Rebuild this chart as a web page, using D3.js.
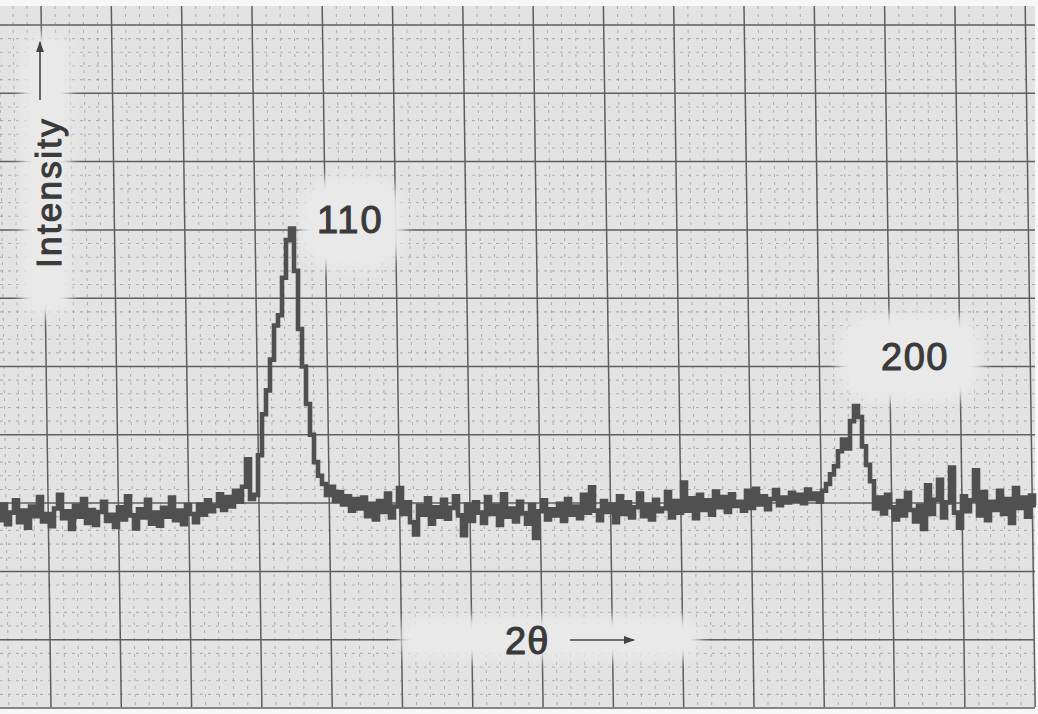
<!DOCTYPE html>
<html><head><meta charset="utf-8">
<script src="https://cdn.jsdelivr.net/npm/d3@7"></script>
<style>html,body{margin:0;padding:0;background:#fff;} svg{display:block;}</style>
</head><body>
<svg id="chart" width="1038" height="714"></svg>
<script>
// 2θ sampling of the recorder trace (arbitrary degrees, regular step)
const theta0 = 34.2;
const thetaStep = 0.14;

// Intensity readings (arbitrary units), segment by segment
const baselineLeft = [
  27.5, 29.8, 26.9, 28.6, 30.4, 27.2, 28.9, 26.4, 29.5, 28.1,
  30.9, 27.3, 28.4, 26.6, 29.2, 31.2, 27.8, 28.8, 26.2, 29.6,
  28.0, 30.6, 27.1, 29.0, 26.8, 28.7, 30.2, 27.4, 28.3, 26.5,
  29.4, 27.6, 31.0, 28.2, 26.3, 29.1, 27.9, 30.5, 27.0, 28.6,
  26.7, 29.3, 28.0, 30.8, 27.5, 28.9, 26.9, 29.7, 28.4, 27.2,
  29.8, 28.3, 30.4, 28.8, 29.6, 31.3, 29.0, 30.9, 29.5, 31.8,
  30.2, 32.4, 36.4, 30.6, 31.2
];
const peak110 = [
  37.0, 43.0, 46.5, 51.0, 56.0,
  57.5, 63.0, 68.5, 70.2, 64.0, 55.5, 50.0, 44.5, 40.0, 36.0,
  34.0, 32.8, 31.2, 32.4, 30.3
];
const baselineMid = [
  31.6, 29.8, 31.0, 28.9, 30.6,
  29.2, 30.8, 28.1, 29.9, 27.6, 30.3, 28.7, 31.4, 27.9, 29.5,
  32.2, 28.4, 30.1, 27.2, 25.4, 29.6, 28.3, 30.7, 27.0, 29.4,
  28.0, 30.5, 27.7, 29.3, 31.0, 28.2, 25.3, 29.8, 27.4, 30.1,
  28.6, 27.1, 30.9, 28.4, 29.6, 26.8, 31.3, 28.0, 29.2, 27.3,
  30.2, 28.5, 27.0, 29.7, 24.9, 28.8, 30.4, 27.6, 29.1, 28.2,
  29.9, 27.4, 30.6, 28.3, 29.5, 27.8, 31.2, 28.6, 32.3, 28.9,
  27.5, 30.3, 28.7, 29.8, 27.2, 31.0, 28.4, 30.1, 27.9, 29.4,
  31.4, 28.1, 29.7, 27.6, 30.5, 28.8, 29.2, 31.6, 27.9, 30.3,
  28.6, 33.0, 28.9, 30.7, 27.8, 31.2, 29.0, 30.4, 28.3, 31.7,
  29.4, 30.9, 28.7, 31.3, 29.6, 30.2, 28.9, 31.8, 29.3, 32.1,
  29.8, 31.0, 29.1, 30.6, 31.9, 29.7, 30.8, 30.1, 31.5, 30.3,
  31.2, 30.0, 32.0, 30.6, 31.4, 30.2, 31.8
];
const peak200 = [
  32.8, 34.2, 35.4,
  37.6, 39.3, 38.0, 42.0, 44.2, 42.6, 38.3, 35.6, 33.2, 29.2
];
const baselineRight = [
  30.8, 28.5, 31.2, 29.4, 27.6, 30.3, 28.2, 31.5, 29.0, 27.3,
  29.6, 26.2, 32.6, 28.4, 30.5, 33.4, 27.9, 30.1, 35.2, 28.6,
  26.4, 31.0, 28.8, 30.4, 34.8, 28.2, 31.6, 27.5, 30.2, 29.0,
  31.8, 28.4, 30.6, 27.1, 32.2, 29.3, 30.8, 28.0, 31.1, 29.7
];
const intensity = [].concat(baselineLeft, peak110, baselineMid, peak200, baselineRight);

const peakLabels = ["110", "200"];
const yLabel = "Intensity";
const xLabel = "2θ";

const W = 1038, H = 714;
const svg = d3.select("#chart");
const n = intensity.length;

const x = d3.scaleLinear().domain([theta0, theta0 + thetaStep * n]).range([0, 4 * n]);
const y = d3.scaleLinear().domain([0, 100]).range([708, 25]);
// graph-paper columns (the chart paper's own ruling)
const gx = d3.scaleLinear().domain([0, 1]).range([41, 111.3]);
const skew = 10;

const defs = svg.append("defs");
defs.append("filter").attr("id", "soft").attr("x", "-30%").attr("y", "-30%").attr("width", "160%").attr("height", "160%")
  .append("feGaussianBlur").attr("stdDeviation", 6);
defs.append("marker").attr("id", "ah").attr("viewBox", "0 0 10 10").attr("refX", 9).attr("refY", 5)
  .attr("markerWidth", 7).attr("markerHeight", 7).attr("orient", "auto")
  .append("path").attr("d", "M0,1.5 L10,5 L0,8.5 Z").attr("fill", "#444");

// white scan margin + paper
svg.append("rect").attr("width", W).attr("height", H).attr("fill", "#f7f7f7");
svg.append("rect").attr("x", 0).attr("y", 6).attr("width", 1035).attr("height", 701).attr("fill", "#e3e3e3");

const grid = svg.append("g");
// minor horizontal
grid.selectAll(".hm").data(d3.range(0, 100.01, 2).filter(v => v % 10 !== 0)).join("line")
  .attr("x1", 0).attr("x2", 1035).attr("y1", d => y(d)).attr("y2", d => y(d))
  .attr("stroke", "#9a9a9a").attr("stroke-width", 1.1).attr("stroke-dasharray", "3,5").attr("opacity", 0.7);
// minor vertical
grid.selectAll(".vm").data(d3.range(-1, 15.01, 0.2).filter(k => Math.abs(k - Math.round(k)) > 0.01)).join("line")
  .attr("x1", d => gx(d)).attr("x2", d => gx(d) + skew).attr("y1", 6).attr("y2", 707)
  .attr("stroke", "#9a9a9a").attr("stroke-width", 1.1).attr("stroke-dasharray", "3,5").attr("opacity", 0.7);
// major horizontal
grid.selectAll(".hM").data(d3.range(0, 100.01, 10)).join("line")
  .attr("x1", 0).attr("x2", 1035).attr("y1", d => y(d)).attr("y2", d => y(d))
  .attr("stroke", "#5e5e5e").attr("stroke-width", 1.5);
// major vertical
grid.selectAll(".vM").data(d3.range(-1, 15)).join("line")
  .attr("x1", d => gx(d)).attr("x2", d => gx(d) + skew).attr("y1", 6).attr("y2", 707)
  .attr("stroke", "#5e5e5e").attr("stroke-width", 1.5);

// light patches under hand lettering
const patches = svg.append("g").attr("fill", "#e9e9e9").attr("filter", "url(#soft)");
patches.append("rect").attr("x", 22).attr("y", 34).attr("width", 48).attr("height", 282).attr("rx", 16);
patches.append("rect").attr("x", 300).attr("y", 176).attr("width", 104).attr("height", 94).attr("rx", 36);
patches.append("rect").attr("x", 838).attr("y", 314).attr("width", 144).attr("height", 88).attr("rx", 36);
patches.append("rect").attr("x", 400).attr("y", 617).attr("width", 300).attr("height", 42).attr("rx", 18);

// trace
const line = d3.line()
  .x((d, i) => x(theta0 + thetaStep * i))
  .y(d => y(d))
  .curve(d3.curveStep);
svg.append("path").datum(intensity).attr("d", line)
  .attr("fill", "none").attr("stroke", "#505050").attr("stroke-width", 4.6)
  .attr("stroke-linejoin", "miter");

const txt = svg.append("g").attr("font-family", "'Liberation Sans', Arial, sans-serif")
  .attr("fill", "#3a3a3a").attr("stroke", "#3a3a3a").attr("stroke-width", 1.1);
txt.append("text").attr("transform", "translate(61,268) rotate(-90)")
  .attr("font-size", 35).attr("letter-spacing", 2.3).text(yLabel);
svg.append("line").attr("x1", 40).attr("x2", 40).attr("y1", 100).attr("y2", 42)
  .attr("stroke", "#444").attr("stroke-width", 1.6).attr("marker-end", "url(#ah)");

txt.append("text").attr("x", 317).attr("y", 233).attr("font-size", 38).attr("letter-spacing", 2).text(peakLabels[0]);
txt.append("text").attr("x", 881).attr("y", 370).attr("font-size", 38).attr("letter-spacing", 1.5).text(peakLabels[1]);
txt.append("text").attr("x", 505).attr("y", 654).attr("font-size", 38).attr("letter-spacing", 1).text(xLabel);
svg.append("line").attr("x1", 570).attr("x2", 634).attr("y1", 640).attr("y2", 640)
  .attr("stroke", "#444").attr("stroke-width", 1.6).attr("marker-end", "url(#ah)");
</script>
</body></html>
